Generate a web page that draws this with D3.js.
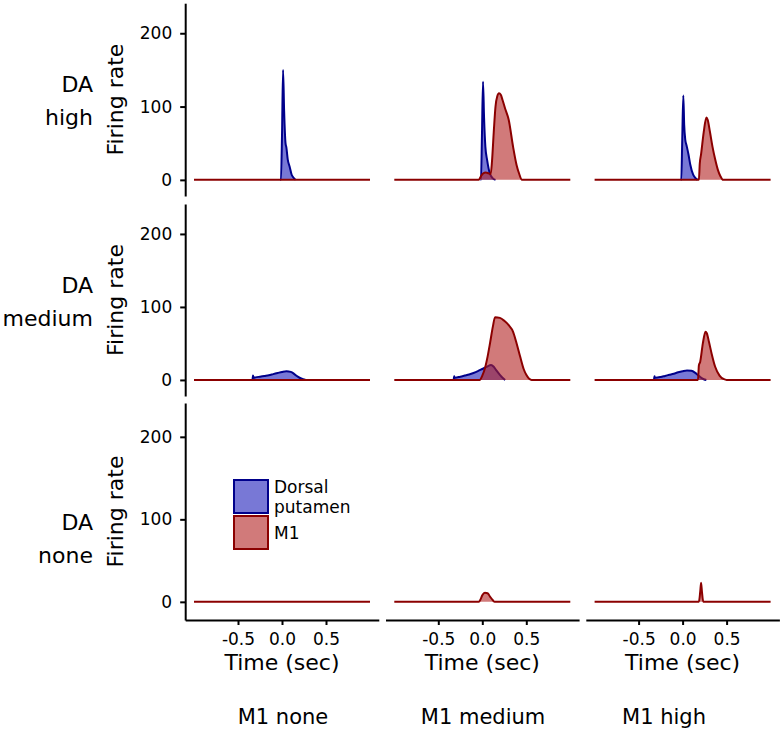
<!DOCTYPE html>
<html>
<head>
<meta charset="utf-8">
<script src="https://cdn.jsdelivr.net/npm/d3@7"></script>
<style>
  html, body { margin: 0; padding: 0; background: #fff; }
  svg { display: block; font-family: "DejaVu Sans", Verdana, sans-serif; }
</style>
</head>
<body>
<svg id="chart" width="782" height="744"></svg>
<script>
// ---------------- DATA ----------------
const rowLabels = [["DA", "high"], ["DA", "medium"], ["DA", "none"]];
const colLabels = ["M1 none", "M1 medium", "M1 high"];
const seriesNames = ["Dorsal\nputamen", "M1"];
const yTicks = [0, 100, 200];
const xTicks = [-0.5, 0, 0.5];
const xTickLabels = ["-0.5", "0.0", "0.5"];
const xTitle = "Time (sec)";
const yTitle = "Firing rate";

// [time (sec), firing rate] — Dorsal putamen
const dpHighNone = [[-0.02,0],[-0.012,0],[0.0,60],[0.012,150],[0.024,95],[0.04,50],[0.05,44],[0.065,28],[0.087,18],[0.11,7],[0.125,4],[0.155,0]];
const dpHighMed  = [[-0.02,0],[-0.015,0],[-0.004,60],[0.008,134],[0.02,85],[0.035,45],[0.055,27],[0.085,9],[0.12,2],[0.15,0]];
const dpHighHigh = [[-0.02,0],[-0.015,0],[-0.004,55],[0.008,115],[0.018,75],[0.03,55],[0.045,47],[0.068,34],[0.087,21],[0.12,7],[0.15,2],[0.17,0]];
const dpMedNone  = [[-0.335,0],[-0.33,6],[-0.32,3],[-0.3,3.5],[-0.25,4.5],[-0.2,5.5],[-0.15,6.5],[-0.1,8],[-0.05,9.5],[0.0,11],[0.05,12],[0.1,11],[0.13,9],[0.16,6],[0.2,3],[0.24,1],[0.27,0]];
const dpMedMed   = [[-0.325,0],[-0.32,5],[-0.31,3],[-0.25,4.5],[-0.2,6],[-0.15,7.5],[-0.1,9.5],[-0.05,12],[0.0,15],[0.05,18],[0.1,20.5],[0.13,18],[0.16,13],[0.2,7],[0.23,3],[0.26,0]];
const dpMedHigh  = [[-0.325,0],[-0.32,5],[-0.31,3],[-0.25,4],[-0.2,5.5],[-0.15,7],[-0.1,8.5],[-0.05,10.5],[0.0,12],[0.05,13],[0.1,12.5],[0.14,10],[0.17,7],[0.2,4],[0.24,1],[0.27,0]];
const dpNoneNone = [];
const dpNoneMed  = [];
const dpNoneHigh = [];

// [time (sec), firing rate] — M1
const m1HighNone = [[-1,0],[1,0]];
const m1HighMed  = [[-1,0],[-0.04,0],[-0.02,4],[0.01,9],[0.04,10],[0.07,9],[0.095,8],[0.11,25],[0.13,65],[0.15,100],[0.17,114],[0.19,118],[0.21,116],[0.23,109],[0.26,97],[0.3,82],[0.35,45],[0.39,20],[0.42,8],[0.45,0],[1,0]];
const m1HighHigh = [[-1,0],[0.185,0],[0.195,22],[0.21,35],[0.24,65],[0.27,85],[0.285,82],[0.31,66],[0.34,45],[0.37,28],[0.4,14],[0.43,5],[0.46,0],[1,0]];
const m1MedNone  = [[-1,0],[1,0]];
const m1MedMed   = [[-1,0],[-0.03,0],[0.0,6],[0.03,16],[0.06,32],[0.09,52],[0.12,73],[0.145,86],[0.2,85],[0.25,81],[0.3,75],[0.35,66],[0.39,50],[0.43,32],[0.47,15],[0.5,7],[0.56,0],[1,0]];
const m1MedHigh  = [[-1,0],[0.175,0],[0.185,20],[0.2,25],[0.23,50],[0.26,66],[0.275,64],[0.3,52],[0.33,36],[0.37,18],[0.42,6],[0.47,1],[0.5,0],[1,0]];
const m1NoneNone = [[-1,0],[1,0]];
const m1NoneMed  = [[-1,0],[-0.04,0],[-0.02,3],[0.0,8],[0.03,11],[0.06,10.5],[0.09,6],[0.12,2],[0.14,0],[1,0]];
const m1NoneHigh = [[-1,0],[0.185,0],[0.2,12],[0.21,23],[0.22,12],[0.235,0],[1,0]];

const dpPanels = [[dpHighNone, dpHighMed, dpHighHigh],[dpMedNone, dpMedMed, dpMedHigh],[dpNoneNone, dpNoneMed, dpNoneHigh]];
const m1Panels = [[m1HighNone, m1HighMed, m1HighHigh],[m1MedNone, m1MedMed, m1MedHigh],[m1NoneNone, m1NoneMed, m1NoneHigh]];

// ---------------- STYLE / LAYOUT ----------------
const dpStroke = "#00008B", dpFill = "rgba(10,10,180,0.55)";
const m1Stroke = "#8B0000", m1Fill = "rgba(178,34,34,0.6)";
const colX = [185.2, 385.5, 585.8];
const panelW = 193.6;
const rowY = [[3.2, 196], [204, 396], [403, 620]];
const xDomain = [-1.1, 1.1];
const yDomain = [-22, 241];

const svg = d3.select("#chart");

const line = (x, y) => d3.line().x(d => x(d[0])).y(d => y(d[1])).curve(d3.curveMonotoneX);
const area = (x, y) => d3.area().x(d => x(d[0])).y0(y(0)).y1(d => y(d[1])).curve(d3.curveMonotoneX);

for (let r = 0; r < 3; r++) {
  const y = d3.scaleLinear().domain(yDomain).range([rowY[r][1], rowY[r][0]]);
  for (let c = 0; c < 3; c++) {
    const x = d3.scaleLinear().domain(xDomain).range([colX[c], colX[c] + panelW]);
    const g = svg.append("g");
    const dp = dpPanels[r][c], m1 = m1Panels[r][c];
    if (dp.length) {
      g.append("path").datum(dp).attr("d", area(x, y)).attr("fill", dpFill);
      g.append("path").datum(dp).attr("d", line(x, y)).attr("fill", "none")
        .attr("stroke", dpStroke).attr("stroke-width", 2).attr("stroke-linejoin", "round");
    }
    g.append("path").datum(m1).attr("d", area(x, y)).attr("fill", m1Fill);
    g.append("path").datum(m1).attr("d", line(x, y)).attr("fill", "none")
      .attr("stroke", m1Stroke).attr("stroke-width", 2).attr("stroke-linejoin", "round");

    // x axis on bottom row
    if (r === 2) {
      const ax = svg.append("g").attr("transform", `translate(0,${rowY[r][1]})`)
        .call(d3.axisBottom(x).tickValues(xTicks).tickFormat((d, i) => xTickLabels[i])
          .tickSize(5).tickSizeOuter(0).tickPadding(8));
      ax.select(".domain").attr("stroke", "#000").attr("stroke-width", 2);
      ax.selectAll(".tick line").attr("stroke", "#000").attr("stroke-width", 2);
      ax.selectAll(".tick text").attr("font-size", 17).attr("fill", "#000")
        .attr("font-family", "DejaVu Sans, Verdana, sans-serif");
      svg.append("text").attr("x", x(0)).attr("y", 670).attr("text-anchor", "middle")
        .attr("font-size", 22).attr("fill", "#000").text(xTitle);
    }
  }
  // y axis on left column
  const ay = svg.append("g").attr("transform", `translate(${colX[0]},0)`)
    .call(d3.axisLeft(y).tickValues(yTicks).tickSize(5).tickSizeOuter(0).tickPadding(8));
  ay.select(".domain").attr("stroke", "#000").attr("stroke-width", 2);
  ay.selectAll(".tick line").attr("stroke", "#000").attr("stroke-width", 2);
  ay.selectAll(".tick text").attr("font-size", 17).attr("fill", "#000")
    .attr("font-family", "DejaVu Sans, Verdana, sans-serif");

  const cy = (rowY[r][0] + rowY[r][1]) / 2;
  svg.append("text").attr("transform", `translate(123,${cy}) rotate(-90)`)
    .attr("text-anchor", "middle").attr("font-size", 22).attr("fill", "#000").text(yTitle);
}

// row strip labels
const rowLabelBase = [[92, 125], [292.5, 325.5], [530, 563]];
rowLabels.forEach((lab, r) => {
  lab.forEach((t, i) => {
    svg.append("text").attr("x", 93).attr("y", rowLabelBase[r][i]).attr("text-anchor", "end")
      .attr("font-size", 22).attr("fill", "#000").text(t);
  });
});

// column labels
const colLabelX = [283, 483, 664];
colLabels.forEach((t, c) => {
  svg.append("text").attr("x", colLabelX[c]).attr("y", 724).attr("text-anchor", "middle")
    .attr("font-size", 21).attr("fill", "#000").text(t);
});

// legend
const legend = svg.append("g").attr("transform", "translate(234,480)");
const legItems = [
  { fill: dpFill, stroke: dpStroke, lines: seriesNames[0].split("\n"), y: 0 },
  { fill: m1Fill, stroke: m1Stroke, lines: seriesNames[1].split("\n"), y: 36 }
];
legItems.forEach(it => {
  legend.append("rect").attr("x", 0).attr("y", it.y).attr("width", 34).attr("height", 33)
    .attr("fill", it.fill).attr("stroke", it.stroke).attr("stroke-width", 2);
  it.lines.forEach((t, i) => {
    legend.append("text").attr("x", 40).attr("y", it.y + (it.lines.length === 1 ? 23 : 13 + i * 20))
      .attr("font-size", 17).attr("fill", "#000").text(t);
  });
});
</script>
</body>
</html>
